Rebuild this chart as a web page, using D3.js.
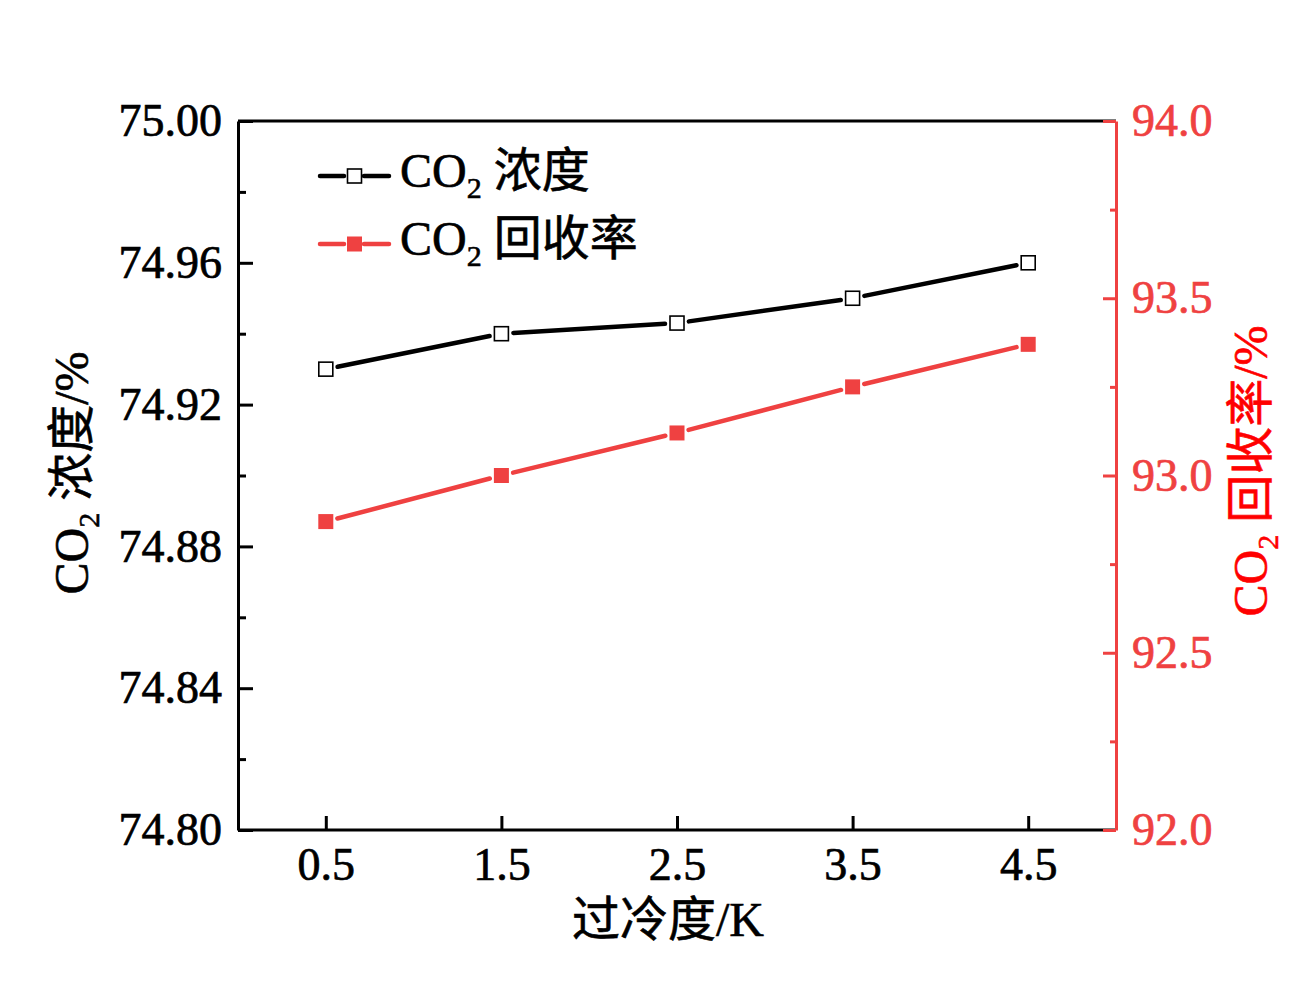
<!DOCTYPE html>
<html>
<head>
<meta charset="utf-8">
<script src="https://cdn.jsdelivr.net/npm/d3@7"></script>
<style>
  html, body { margin: 0; padding: 0; background: #fff; }
  svg { display: block; }
  text { font-family: "Liberation Serif", "Noto Sans CJK SC", serif; }
</style>
</head>
<body>
<svg id="chart" width="1308" height="1004"></svg>
<script>
// ---- data ----
const subcooling = [0.5, 1.5, 2.5, 3.5, 4.5];
const co2Concentration = [74.930, 74.940, 74.943, 74.950, 74.960];
const co2Recovery = [92.87, 93.00, 93.12, 93.25, 93.37];
const xTicks = [0.5, 1.5, 2.5, 3.5, 4.5];
const leftTicks = [74.80, 74.84, 74.88, 74.92, 74.96, 75.00];
const leftMinor = [74.82, 74.86, 74.90, 74.94, 74.98];
const rightTicks = [92.0, 92.5, 93.0, 93.5, 94.0];
const rightMinor = [92.25, 92.75, 93.25, 93.75];
const seriesNames = ["浓度", "回收率"];

const FONT = "'Liberation Serif', 'Noto Sans CJK SC', serif";
const RED = "#ef4141";
const svg = d3.select("#chart");
const M = { left: 238, right: 1116, top: 121, bottom: 830 };

const x = d3.scaleLinear().domain([0, 5]).range([M.left, M.right]);
const yL = d3.scaleLinear().domain([74.80, 75.00]).range([M.bottom, M.top]);
const yR = d3.scaleLinear().domain([92.0, 94.0]).range([M.bottom, M.top]);

function styleLabels(sel, color) {
  sel.attr("font-size", 46).attr("fill", color).attr("font-family", FONT)
    .attr("stroke", color).attr("stroke-width", 0.7);
}

// frame (black) left, top, bottom
const frame = svg.append("g").attr("stroke", "#000").attr("stroke-width", 3).attr("fill", "none");
frame.append("path").attr("d", `M${M.left},${M.top}H${M.right}M${M.left},${M.bottom}H${M.right}`);

// bottom axis
const gx = svg.append("g").attr("transform", `translate(0,${M.bottom})`).attr("font-family", FONT)
  .call(d3.axisBottom(x).tickValues(xTicks).tickSizeInner(-14).tickSizeOuter(0).tickPadding(17).tickFormat(d3.format(".1f")));
gx.attr("font-family", FONT);
gx.select(".domain").remove();
gx.selectAll("line").attr("stroke", "#000").attr("stroke-width", 3);
styleLabels(gx.selectAll("text"), "#000");

// left axis
const gl = svg.append("g").attr("transform", `translate(${M.left},0)`)
  .call(d3.axisLeft(yL).tickValues(leftTicks).tickSizeInner(-15).tickSizeOuter(0).tickPadding(16).tickFormat(d3.format(".2f")));
gl.attr("font-family", FONT);
gl.select(".domain").attr("stroke", "#000").attr("stroke-width", 3);
gl.selectAll("line").attr("stroke", "#000").attr("stroke-width", 3);
styleLabels(gl.selectAll("text"), "#000");
gl.selectAll("text").attr("dy", "0.32em");
const glm = svg.append("g").attr("transform", `translate(${M.left},0)`)
  .call(d3.axisLeft(yL).tickValues(leftMinor).tickSizeInner(-8).tickSizeOuter(0).tickFormat(""));
glm.select(".domain").remove();
glm.selectAll("line").attr("stroke", "#000").attr("stroke-width", 3);

// right axis
const gr = svg.append("g").attr("transform", `translate(${M.right},0)`)
  .call(d3.axisRight(yR).tickValues(rightTicks).tickSizeInner(-13).tickSizeOuter(0).tickPadding(16).tickFormat(d3.format(".1f")));
gr.attr("font-family", FONT);
gr.select(".domain").attr("stroke", RED).attr("stroke-width", 3);
gr.selectAll("line").attr("stroke", RED).attr("stroke-width", 3);
styleLabels(gr.selectAll("text"), RED);
gr.selectAll("text").attr("dy", "0.32em");
const grm = svg.append("g").attr("transform", `translate(${M.right},0)`)
  .call(d3.axisRight(yR).tickValues(rightMinor).tickSizeInner(-6).tickSizeOuter(0).tickFormat(""));
grm.select(".domain").remove();
grm.selectAll("line").attr("stroke", RED).attr("stroke-width", 3);

// series drawing with gaps around markers
function drawSeries(vals, yScale, color, filled) {
  const pts = subcooling.map((d, i) => [x(d), yScale(vals[i])]);
  const gap = 12;
  const g = svg.append("g");
  for (let i = 0; i < pts.length - 1; i++) {
    const [x0, y0] = pts[i], [x1, y1] = pts[i + 1];
    const len = Math.hypot(x1 - x0, y1 - y0);
    const ux = (x1 - x0) / len, uy = (y1 - y0) / len;
    g.append("line")
      .attr("x1", x0 + ux * gap).attr("y1", y0 + uy * gap)
      .attr("x2", x1 - ux * gap).attr("y2", y1 - uy * gap)
      .attr("stroke", color).attr("stroke-width", 4.5).attr("stroke-linecap", "round");
  }
  const s = filled ? 15 : 14;
  g.selectAll("rect").data(pts).join("rect")
    .attr("x", d => d[0] - s / 2).attr("y", d => d[1] - s / 2)
    .attr("width", s).attr("height", s)
    .attr("fill", filled ? color : "#fff")
    .attr("stroke", filled ? "none" : "#000")
    .attr("stroke-width", filled ? 0 : 1.6);
}
drawSeries(co2Concentration, yL, "#000", false);
drawSeries(co2Recovery, yR, RED, true);

// legend
function legendItem(y, color, filled, name) {
  const g = svg.append("g");
  g.append("line").attr("x1", 320).attr("x2", 344).attr("y1", y).attr("y2", y)
    .attr("stroke", color).attr("stroke-width", 4.5).attr("stroke-linecap", "round");
  g.append("line").attr("x1", 364).attr("x2", 389).attr("y1", y).attr("y2", y)
    .attr("stroke", color).attr("stroke-width", 4.5).attr("stroke-linecap", "round");
  const s = filled ? 15 : 14;
  g.append("rect").attr("x", 354.5 - s / 2).attr("y", y - s / 2).attr("width", s).attr("height", s)
    .attr("fill", filled ? color : "#fff").attr("stroke", filled ? "none" : "#000").attr("stroke-width", 1.6);
  const t = g.append("text").attr("x", 400).attr("y", y + 11).attr("font-size", 48)
    .attr("fill", "#000").attr("stroke", "#000").attr("stroke-width", 0.6);
  t.append("tspan").text("CO");
  t.append("tspan").attr("font-size", 30).attr("dy", 11).text("2");
  t.append("tspan").attr("dy", -11).text(" " + name);
}
legendItem(176, "#000", false, seriesNames[0]);
legendItem(244, RED, true, seriesNames[1]);

// axis titles
svg.append("text").attr("x", 668).attr("y", 936).attr("text-anchor", "middle")
  .attr("font-size", 48).attr("fill", "#000").attr("stroke", "#000").attr("stroke-width", 0.6)
  .text("过冷度/K");

function yTitle(cx, cy, color, name) {
  const t = svg.append("text").attr("transform", `translate(${cx},${cy}) rotate(-90)`)
    .attr("text-anchor", "middle").attr("font-size", 48).attr("fill", color)
    .attr("stroke", color).attr("stroke-width", 0.6);
  t.append("tspan").text("CO");
  t.append("tspan").attr("font-size", 30).attr("dy", 11).text("2");
  t.append("tspan").attr("dy", -11).text(" " + name + "/%");
}
yTitle(88, 473, "#000", seriesNames[0]);
yTitle(1267, 471, "#ff0000", seriesNames[1]);
</script>
</body>
</html>
